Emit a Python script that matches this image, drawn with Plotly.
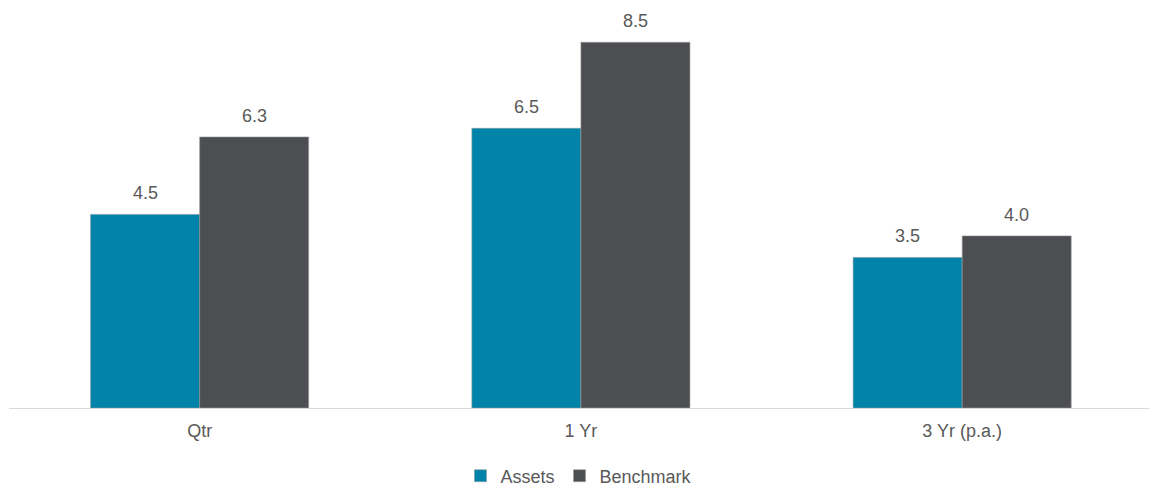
import plotly.graph_objects as go

categories = ["Qtr", "1 Yr", "3 Yr (p.a.)"]
assets = [4.5, 6.5, 3.5]
benchmark = [6.3, 8.5, 4.0]

ASSETS_COLOR = "#0083A9"
BENCH_COLOR = "#4D4E52"
TEXT_COLOR = "#595959"
FONT = "Liberation Sans, Arial, sans-serif"

fig = go.Figure()
fig.add_trace(go.Bar(
    name="Assets", x=categories, y=assets,
    marker=dict(color=ASSETS_COLOR, line=dict(color="#8a9aa0", width=0.6)),
))
fig.add_trace(go.Bar(
    name="Benchmark", x=categories, y=benchmark,
    marker=dict(color=BENCH_COLOR, line=dict(color="#9a9a9e", width=0.6)),
))

# value labels above each bar
bar_half = 54.5
for series, shift in ((assets, -bar_half), (benchmark, bar_half)):
    for cat, val in zip(categories, series):
        fig.add_annotation(
            x=cat, y=val, text=f"{val:.1f}", showarrow=False,
            xshift=shift, yshift=21, yanchor="middle",
            font=dict(family=FONT, size=18, color=TEXT_COLOR),
        )

fig.update_layout(
    width=1149, height=486,
    margin=dict(l=9, r=0, t=10, b=78, autoexpand=False),
    paper_bgcolor="white", plot_bgcolor="white",
    barmode="group", bargap=0.428, bargroupgap=0,
    font=dict(family=FONT, size=18, color=TEXT_COLOR),
    showlegend=True,
    legend=dict(
        orientation="h", x=0.5, xanchor="center",
        yref="container", y=10 / 486, yanchor="middle",
        font=dict(family=FONT, size=18, color=TEXT_COLOR),
        itemwidth=30, tracegroupgap=0,
    ),
    xaxis=dict(
        range=[-0.5, 2.49], showline=True, linecolor="#d9d9d9", linewidth=1,
        ticks="", showgrid=False, zeroline=False, ticklabelstandoff=6,
        tickfont=dict(family=FONT, size=18, color=TEXT_COLOR),
    ),
    yaxis=dict(
        range=[0, 9.25], visible=False, showgrid=False, zeroline=False,
    ),
)

fig.write_html("out.html")
